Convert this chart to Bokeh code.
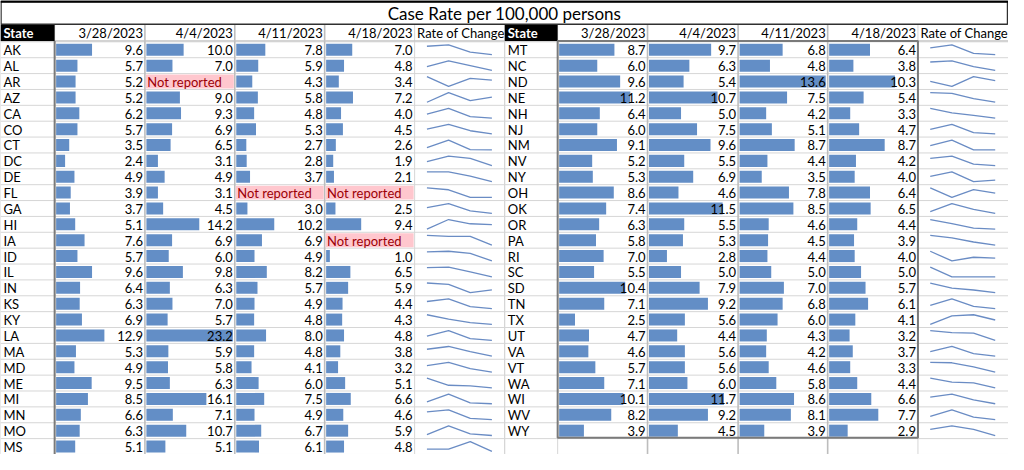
from bokeh.plotting import figure
from bokeh.models import Range1d, ColumnDataSource
from bokeh.core.properties import value
from bokeh.embed import file_html
from bokeh.resources import INLINE

# ---------------- data ----------------
title = "Case Rate per 100,000 persons"
dates = ["3/28/2023", "4/4/2023", "4/11/2023", "4/18/2023"]
spark_header = "Rate of Change"
state_header = "State"
na_label = "Not reported"

states_left = ["AK", "AL", "AR", "AZ", "CA", "CO", "CT", "DC", "DE", "FL", "GA", "HI", "IA",
               "ID", "IL", "IN", "KS", "KY", "LA", "MA", "MD", "ME", "MI", "MN", "MO", "MS"]
left_0328 = [9.6, 5.7, 5.2, 5.2, 6.2, 5.7, 3.5, 2.4, 4.9, 3.9, 3.7, 5.1, 7.6,
             5.7, 9.6, 6.4, 6.3, 6.9, 12.9, 5.3, 4.9, 9.5, 8.5, 6.6, 6.3, 5.1]
left_0404 = [10.0, 7.0, None, 9.0, 9.3, 6.9, 6.5, 3.1, 4.9, 3.1, 4.5, 14.2, 6.9,
             6.0, 9.8, 6.3, 7.0, 5.7, 23.2, 5.9, 5.8, 6.3, 16.1, 7.1, 10.7, 5.1]
left_0411 = [7.8, 5.9, 4.3, 5.8, 4.8, 5.3, 2.7, 2.8, 3.7, None, 3.0, 10.2, 6.9,
             4.9, 8.2, 5.7, 4.9, 4.8, 8.0, 4.8, 4.1, 6.0, 7.5, 4.9, 6.7, 6.1]
left_0418 = [7.0, 4.8, 3.4, 7.2, 4.0, 4.5, 2.6, 1.9, 2.1, None, 2.5, 9.4, None,
             1.0, 6.5, 5.9, 4.4, 4.3, 4.8, 3.8, 3.2, 5.1, 6.6, 4.6, 5.9, 4.8]

states_right = ["MT", "NC", "ND", "NE", "NH", "NJ", "NM", "NV", "NY", "OH", "OK", "OR", "PA",
                "RI", "SC", "SD", "TN", "TX", "UT", "VA", "VT", "WA", "WI", "WV", "WY"]
right_0328 = [8.7, 6.0, 9.6, 11.2, 6.4, 6.0, 9.1, 5.2, 5.3, 8.6, 7.4, 6.3, 5.8,
              7.0, 5.5, 10.4, 7.1, 2.5, 4.7, 4.6, 5.7, 7.1, 10.1, 8.2, 3.9]
right_0404 = [9.7, 6.3, 5.4, 10.7, 5.0, 7.5, 9.6, 5.5, 6.9, 4.6, 11.5, 5.5, 5.3,
              2.8, 5.0, 7.9, 9.2, 5.6, 4.4, 5.6, 5.6, 6.0, 11.7, 9.2, 4.5]
right_0411 = [6.8, 4.8, 13.6, 7.5, 4.2, 5.1, 8.7, 4.4, 3.5, 7.8, 8.5, 4.6, 4.5,
              4.4, 5.0, 7.0, 6.8, 6.0, 4.3, 4.2, 4.6, 5.8, 8.6, 8.1, 3.9]
right_0418 = [6.4, 3.8, 10.3, 5.4, 3.3, 4.7, 8.7, 4.2, 4.0, 6.4, 6.5, 4.4, 3.9,
              4.0, 5.0, 5.7, 6.1, 4.1, 3.2, 3.7, 3.3, 4.4, 6.6, 7.7, 2.9]

# ---------------- layout / style ----------------
W, H = 1024, 470
ROW0 = 42.8
RH = 16.43
HDR_TOP = 25.0
FONT = value("Lato")
BAR = "#638ec6"
SPARK = "#6a8cc4"

tables = [
    dict(edges=[0, 55, 146.7, 238, 329.3, 420.7, 512], states=states_left,
         cols=[left_0328, left_0404, left_0411, left_0418]),
    dict(edges=[512.3, 566, 657.3, 749.3, 840.3, 932, 1024], states=states_right,
         cols=[right_0328, right_0404, right_0411, right_0418]),
]

p = figure(width=1008, height=454, x_range=Range1d(0, W), y_range=Range1d(H, 0),
           output_backend="svg", toolbar_location=None, min_border=0,
           x_axis_location=None, y_axis_location=None)
p.xgrid.visible = False
p.ygrid.visible = False
p.outline_line_color = None
p.background_fill_color = "white"

# ---- grid lines ----
hx0, hx1, hy = [], [], []
for k in range(27):
    y = ROW0 + k * RH
    hx0.append(0); hx1.append(W); hy.append(y)
p.segment(x0=hx0, y0=hy, x1=hx1, y1=hy, line_color="#d6d6d6", line_width=1)

vx, vy0, vy1, vc, vw = [], [], [], [], []
for t in tables:
    e = t["edges"]
    for j, x in enumerate(e):
        vx.append(x); vy0.append(HDR_TOP); vy1.append(H)
        if 2 <= j <= 4:
            vc.append("#bdbdbd"); vw.append(1.6)
        else:
            vc.append("#d6d6d6"); vw.append(1)
p.segment(x0=vx, y0=vy0, x1=vx, y1=vy1, line_color=vc, line_width=vw)

# header bottom line
p.segment(x0=[0], y0=[ROW0 - 1], x1=[W], y1=[ROW0 - 1], line_color="#c4c4c4", line_width=1.2)

# ---- header row ----
for t in tables:
    e = t["edges"]
    p.quad(left=[e[0]], right=[e[1]], top=[HDR_TOP], bottom=[ROW0 - 1],
           fill_color="black", line_color=None)
    p.text(x=[e[0] + 3], y=[(HDR_TOP + ROW0) / 2], text=[state_header],
           text_color="white", text_font=FONT, text_font_size="13px",
           text_font_style="bold", text_align="left", text_baseline="middle")
    p.text(x=[e[j + 2] - 2 for j in range(4)], y=[(HDR_TOP + ROW0) / 2] * 4, text=dates,
           text_color="black", text_font=FONT, text_font_size="13px",
           text_align="right", text_baseline="middle")
    p.text(x=[e[5] + 2.5], y=[(HDR_TOP + ROW0) / 2], text=[spark_header],
           text_color="black", text_font=FONT, text_font_size="13px",
           text_align="left", text_baseline="middle")

# ---- body ----
for t in tables:
    e = t["edges"]
    states = t["states"]
    cols = t["cols"]
    n = len(states)
    tmax = max(v for c in cols for v in c if v is not None)
    centers = [ROW0 + (i + 0.5) * RH for i in range(n)]

    p.text(x=[e[0] + 3] * n, y=[c + 0.5 for c in centers], text=states,
           text_color="black", text_font=FONT, text_font_size="13px",
           text_align="left", text_baseline="middle")

    bl, br, bt, bb = [], [], [], []
    tx, ty, tt = [], [], []
    nl, nr, nt, nb, ntx, nty = [], [], [], [], [], []
    for j, c in enumerate(cols):
        cl, cr = e[j + 1], e[j + 2]
        cw = cr - cl
        for i, v in enumerate(c):
            top = ROW0 + i * RH
            if v is None:
                nl.append(cl + 1); nr.append(cr - 1); nt.append(top + 1); nb.append(top + RH - 1)
                ntx.append(cl + 2.5); nty.append(centers[i] + 0.5)
            else:
                bl.append(cl + 1.5); br.append(cl + 1.5 + v / tmax * (cw - 3.5))
                bt.append(top + 2); bb.append(top + RH - 2)
                tx.append(cr - 2); ty.append(centers[i] + 0.5); tt.append(f"{v:.1f}")

    p.quad(left=nl, right=nr, top=nt, bottom=nb, fill_color="#ffc7ce", line_color=None)
    p.quad(left=bl, right=br, top=bt, bottom=bb, fill_color=BAR, line_color=None)
    p.text(x=tx, y=ty, text=tt, text_color="black", text_font=FONT, text_font_size="13px",
           text_align="right", text_baseline="middle")
    p.text(x=ntx, y=nty, text=[na_label] * len(ntx), text_color="#9c0006", text_font=FONT,
           text_font_size="13px", text_align="left", text_baseline="middle")

    # sparklines (non-reported treated as 0, as in the sheet)
    sx0 = e[5] + 12.5
    xs_all, ys_all = [], []
    for i in range(n):
        vals = [c[i] if c[i] is not None else 0.0 for c in cols]
        mn, mx = min(vals), max(vals)
        rng = (mx - mn) or 1.0
        xs_all.append([sx0 + 22 * k for k in range(4)])
        ys_all.append([centers[i] + 5 - (v - mn) / rng * 10 for v in vals])
    p.multi_line(xs=xs_all, ys=ys_all, line_color=SPARK, line_width=1.3)

# table borders
p.segment(x0=[55], y0=[ROW0 - 1], x1=[55], y1=[H], line_color="#7a7a7a", line_width=2)
p.quad(left=[566], right=[932], top=[ROW0 - 1], bottom=[ROW0 + 25 * RH - 1],
       fill_color=None, line_color="#7a7a7a", line_width=2)

# ---- title ----
p.quad(left=[0.5], right=[W - 1], top=[1], bottom=[24.5], fill_color=None,
       line_color="#303030", line_width=1.5)
p.segment(x0=[0], y0=[1], x1=[W], y1=[1], line_color="black", line_width=2.5)
p.text(x=[512], y=[13.5], text=[title], text_color="black", text_font=FONT,
       text_font_size="17px", text_align="center", text_baseline="middle")

open("out.html", "w").write(file_html(p, INLINE))
